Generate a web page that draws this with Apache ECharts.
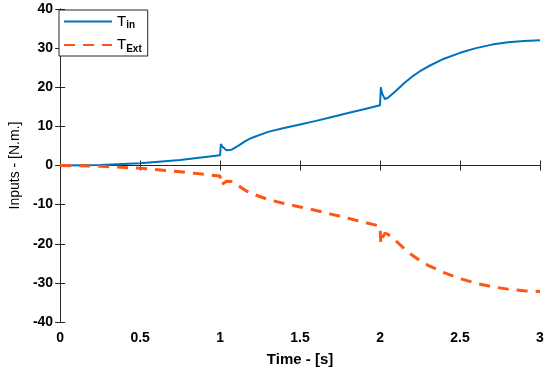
<!DOCTYPE html>
<html><head><meta charset="utf-8">
<script src="https://cdn.jsdelivr.net/npm/echarts@6/dist/echarts.min.js"></script>
<style>html,body{margin:0;padding:0;background:#fff}#c{width:550px;height:372px}</style>
</head><body><div id="c"></div>
<script>
var times = [0, 0.25, 0.5, 0.75, 1.0, 1.005, 1.015, 1.04, 1.07, 1.12, 1.16, 1.2, 1.3, 1.4, 1.5, 1.6, 1.7, 1.8, 1.9, 2.0, 2.005, 2.012, 2.03, 2.05, 2.1, 2.15, 2.2, 2.25, 2.3, 2.4, 2.5, 2.6, 2.7, 2.8, 2.9, 3.0];
var tIn = [0, 0.15, 0.6, 1.4, 2.6, 5.5, 4.8, 3.9, 4.0, 5.2, 6.3, 7.1, 8.6, 9.6, 10.5, 11.4, 12.4, 13.4, 14.4, 15.4, 20.0, 18.5, 17.0, 17.3, 19.1, 21.0, 22.7, 24.1, 25.3, 27.3, 28.8, 30.0, 30.9, 31.5, 31.8, 32.0];
var tExt = [0, -0.2, -0.7, -1.6, -2.7, -5.0, -4.6, -4.0, -4.1, -5.3, -6.4, -7.2, -8.7, -9.7, -10.6, -11.5, -12.5, -13.5, -14.5, -15.5, -20.0, -18.8, -17.3, -17.6, -19.3, -21.2, -22.9, -24.3, -25.5, -27.4, -28.9, -30.1, -31.0, -31.6, -32.0, -32.2];
var xTicks = [0, 0.5, 1, 1.5, 2, 2.5, 3];
var yTicks = [-40, -30, -20, -10, 0, 10, 20, 30, 40];

function pairs(v){ return times.map(function(t,i){ return [t, v[i]]; }); }
var chart = echarts.init(document.getElementById('c'));
var FF = 'Liberation Sans, Arial, sans-serif';
var lbl = {color:'#000', fontWeight:'bold', fontSize:14, fontFamily:FF};
var axLine = {show:true, lineStyle:{color:'#262626', width:1}};
var tick = {show:true, inside:true, length:5, lineStyle:{color:'#262626'}};
chart.setOption({
  animation:false,
  grid:{left:58, right:10, top:9, bottom:50},
  legend:{
    left:59, top:10, orient:'vertical', itemWidth:48, itemHeight:14, itemGap:7,
    padding:[4,6,2,4], borderColor:'#262626', borderWidth:1, backgroundColor:'#fff',
    data:['in','Ext'],
    itemStyle:{opacity:0},
    formatter:function(n){ return '{t|T}{s|' + n + '}'; },
    textStyle:{rich:{
      t:{fontSize:15, fontFamily:FF, color:'#000'},
      s:{fontSize:10, fontWeight:'bold', fontFamily:FF, color:'#000', padding:[8,0,0,0]}
    }}
  },
  xAxis:[{
    type:'value', min:0, max:3, interval:0.5,
    name:'Time - [s]', nameLocation:'middle', nameGap:30,
    nameTextStyle:{color:'#000', fontWeight:'bold', fontSize:15, fontFamily:FF},
    axisLine:axLine, axisTick:tick,
    axisLabel:Object.assign({margin:9, formatter:function(v){return xTicks.indexOf(v)>=0?String(v):'';}}, lbl),
    splitLine:{show:false}
  },{
    type:'value', min:0, max:3, interval:0.5, position:'top',
    axisLine:axLine, axisTick:tick, axisLabel:{show:false}, splitLine:{show:false}
  }],
  yAxis:[{
    type:'value', min:-40, max:40, interval:10,
    name:'Inputs - [N.m.]', nameLocation:'middle', nameGap:37, nameRotate:90,
    nameTextStyle:{color:'#000', fontSize:14, fontFamily:FF},
    axisLine:axLine, axisTick:tick,
    axisLabel:Object.assign({margin:7, formatter:function(v){return yTicks.indexOf(v)>=0?String(v):'';}}, lbl),
    splitLine:{show:false}
  },{
    type:'value', min:-40, max:40, interval:10, position:'right',
    axisLine:axLine, axisTick:tick, axisLabel:{show:false}, splitLine:{show:false}
  }],
  series:[{
    name:'in', type:'line', data:pairs(tIn), showSymbol:false, symbol:'none',
    lineStyle:{color:'#0072BD', width:2}, itemStyle:{color:'#0072BD'}
  },{
    name:'Ext', type:'line', data:pairs(tExt), showSymbol:false, symbol:'none',
    lineStyle:{color:'#FF5514', width:3, type:[11,8]}, itemStyle:{color:'#FF5514'}
  }]
});
</script></body></html>
